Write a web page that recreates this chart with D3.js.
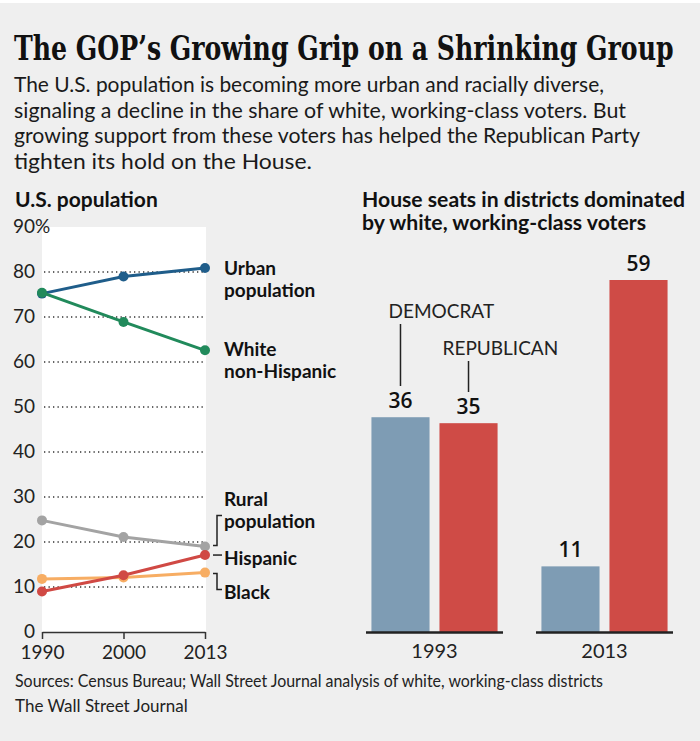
<!DOCTYPE html>
<html>
<head>
<meta charset="utf-8">
<script src="https://cdn.jsdelivr.net/npm/d3@7"></script>
<style>
  body { margin: 0; background: #ffffff; }
  .cond { font-family: Lato, "Liberation Sans Narrow", sans-serif; }
  .label { font-family: Lato, sans-serif; font-weight: bold; font-size: 19px; fill: #111; }
</style>
</head>
<body>
<div class="chart"></div>
<script>
// left panel data: share of U.S. population (%)
var years = ["1990", "2000", "2013"];
var urban = [75.2, 79.0, 80.9];
var whiteNonHispanic = [75.4, 68.9, 62.6];
var rural = [24.8, 21.1, 19.0];
var hispanic = [9.0, 12.6, 17.1];
var black = [11.8, 12.1, 13.2];
var popTicks = [0, 10, 20, 30, 40, 50, 60, 70, 80, 90];

// right panel data: house seats
var seatYears = ["1993", "2013"];
var parties = ["Democrat", "Republican"];
var democratSeats = [36, 11];
var republicanSeats = [35, 59];

var subtitle = [
    "The U.S. population is becoming more urban and racially diverse,",
    "signaling a decline in the share of white, working-class voters. But",
    "growing support from these voters has helped the Republican Party",
    "tighten its hold on the House."
];
var subtitleWidths = [590, 612, 626, 298];

function drawChart() {

    var width = 700, height = 741;

    var svg = d3.select(".chart").append("svg")
        .attr("width", width)
        .attr("height", height);

    // background
    svg.append("rect")
        .attr("x", 0).attr("y", 3)
        .attr("width", width).attr("height", height - 3)
        .attr("fill", "#efefef");

    // title (squeezed horizontally to look condensed)
    var title = svg.append("text")
        .attr("x", 0)
        .attr("y", 0)
        .style("font-family", "'DejaVu Serif Condensed', 'DejaVu Serif', serif")
        .style("font-weight", "bold")
        .style("font-size", "33px")
        .style("fill", "#111")
        .text("The GOP\u2019s Growing Grip on a Shrinking Group");
    var tw = title.node().getComputedTextLength();
    title.attr("transform", `translate(14, 60) scale(${660 / tw}, 1)`);

    svg.selectAll(".subtitle")
        .data(subtitle)
        .enter().append("text")
        .attr("class", "subtitle cond")
        .attr("x", 14)
        .attr("y", function(d, i) { return 92 + i * 25.5; })
        .attr("textLength", function(d, i) { return subtitleWidths[i]; })
        .attr("lengthAdjust", "spacingAndGlyphs")
        .style("font-size", "22px")
        .style("fill", "#1a1a1a")
        .text(function(d) { return d; });

    // ---------- left panel: U.S. population ----------
    svg.append("text")
        .attr("class", "cond")
        .attr("x", 15)
        .attr("y", 207)
        .style("font-size", "21px")
        .style("font-weight", "bold")
        .style("fill", "#111")
        .text("U.S. population");

    var x = d3.scalePoint().domain(years).range([42, 205]);
    var y = d3.scaleLinear().domain([0, 90]).range([632, 227]);

    svg.append("rect")
        .attr("x", 42)
        .attr("y", y(90))
        .attr("width", 164)
        .attr("height", y(0) - y(90))
        .attr("fill", "#ffffff");

    // dotted gridlines
    svg.selectAll(".grid")
        .data(popTicks.filter(function(d) { return d > 0 && d < 90; }))
        .enter().append("line")
        .attr("x1", 44).attr("x2", 203)
        .attr("y1", function(d) { return y(d); })
        .attr("y2", function(d) { return y(d); })
        .style("stroke", "#333")
        .style("stroke-width", "1.3px")
        .style("stroke-dasharray", "1.3,3.2");

    // y labels
    svg.selectAll(".ylab")
        .data(popTicks)
        .enter().append("text")
        .attr("class", "cond")
        .attr("x", 35)
        .attr("y", function(d) { return y(d) + 5.5; })
        .style("text-anchor", "end")
        .style("font-size", "19px")
        .style("fill", "#222")
        .text(function(d) { return d; });
    svg.append("text")
        .attr("class", "cond")
        .attr("x", 35)
        .attr("y", y(90) + 5.5)
        .style("font-size", "19px")
        .style("fill", "#222")
        .text("%");

    // x axis
    var xAxis = svg.append("g")
        .attr("transform", `translate(0, ${y(0)})`)
        .call(d3.axisBottom(x).tickSize(7).tickSizeOuter(0));
    xAxis.select(".domain").style("stroke", "#333").style("stroke-width", "1.5px");
    xAxis.selectAll(".tick line").style("stroke", "#333").style("stroke-width", "1.5px");
    xAxis.selectAll(".tick text")
        .attr("class", "cond")
        .attr("y", 27)
        .attr("dy", 0)
        .style("font-size", "19px")
        .style("fill", "#222");

    // lines
    var series = [
        {name: "rural", values: rural, color: "#a3a3a3"},
        {name: "black", values: black, color: "#f7ad63"},
        {name: "hispanic", values: hispanic, color: "#d04944"},
        {name: "urban", values: urban, color: "#1f5d8a"},
        {name: "white", values: whiteNonHispanic, color: "#218a5b"}
    ];

    var valueline = d3.line()
        .x(function(d, i) { return x(years[i]); })
        .y(function(d) { return y(d); });

    series.forEach(function(s) {
        svg.append("path")
            .datum(s.values)
            .attr("d", valueline)
            .style("fill", "none")
            .style("stroke", s.color)
            .style("stroke-width", "3px");
        svg.selectAll(".dot-" + s.name)
            .data(s.values)
            .enter().append("circle")
            .attr("cx", function(d, i) { return x(years[i]); })
            .attr("cy", function(d) { return y(d); })
            .attr("r", 5)
            .style("fill", s.color);
    });

    // line labels
    function label(lines, yy) {
        lines.forEach(function(t, i) {
            svg.append("text")
                .attr("class", "label")
                .attr("x", 224)
                .attr("y", yy + i * 22)
                .text(t);
        });
    }
    label(["Urban", "population"], y(urban[2]) + 7);
    label(["White", "non-Hispanic"], y(whiteNonHispanic[2]) + 6);
    label(["Rural", "population"], y(rural[2]) - 41);
    label(["Hispanic"], y(hispanic[2]) + 10);
    label(["Black"], y(black[2]) + 26);

    // brackets
    var bx = 217;
    svg.append("path")
        .attr("d", `M${bx + 5},${y(rural[2]) - 31} H${bx} V${y(rural[2]) - 1} H${bx - 4}`)
        .style("fill", "none").style("stroke", "#222").style("stroke-width", "1.5px");
    svg.append("path")
        .attr("d", `M${bx - 4},${y(hispanic[2])} H${bx + 5}`)
        .style("fill", "none").style("stroke", "#222").style("stroke-width", "1.5px");
    svg.append("path")
        .attr("d", `M${bx - 4},${y(black[2]) + 1} H${bx} V${y(black[2]) + 17} H${bx + 5}`)
        .style("fill", "none").style("stroke", "#222").style("stroke-width", "1.5px");

    // ---------- right panel: house seats ----------
    svg.append("text")
        .attr("class", "cond")
        .attr("x", 362)
        .attr("y", 207)
        .attr("textLength", 323)
        .attr("lengthAdjust", "spacingAndGlyphs")
        .style("font-size", "21px")
        .style("font-weight", "bold")
        .style("fill", "#111")
        .text("House seats in districts dominated");
    svg.append("text")
        .attr("class", "cond")
        .attr("x", 362)
        .attr("y", 230)
        .attr("textLength", 284)
        .attr("lengthAdjust", "spacingAndGlyphs")
        .style("font-size", "21px")
        .style("font-weight", "bold")
        .style("fill", "#111")
        .text("by white, working-class voters");

    var xb = d3.scaleBand().domain(seatYears).range([366, 673]).paddingInner(0.194);
    var xp = d3.scaleBand().domain(parties).range([0, xb.bandwidth()])
        .paddingInner(0.146).paddingOuter(0.08);
    var yb = d3.scaleLinear().domain([0, 59]).range([632, 280]);
    var partyColor = {Democrat: "#7e9cb4", Republican: "#cf4b46"};

    var seatData = [];
    seatYears.forEach(function(yr, i) {
        seatData.push({year: yr, party: "Democrat", value: democratSeats[i]});
        seatData.push({year: yr, party: "Republican", value: republicanSeats[i]});
    });

    svg.selectAll(".bar")
        .data(seatData)
        .enter().append("rect")
        .attr("x", function(d) { return xb(d.year) + xp(d.party); })
        .attr("y", function(d) { return yb(d.value); })
        .attr("width", xp.bandwidth())
        .attr("height", function(d) { return yb(0) - yb(d.value); })
        .style("fill", function(d) { return partyColor[d.party]; });

    svg.selectAll(".barlab")
        .data(seatData)
        .enter().append("text")
        .attr("x", function(d) { return xb(d.year) + xp(d.party) + xp.bandwidth() / 2; })
        .attr("y", function(d) { return yb(d.value) - 9; })
        .style("text-anchor", "middle")
        .style("font-family", "'Open Sans', sans-serif")
        .style("font-size", "21px")
        .style("font-weight", "600")
        .style("fill", "#111")
        .text(function(d) { return d.value; });

    // baselines per group + year labels
    svg.selectAll(".base")
        .data(seatYears)
        .enter().append("line")
        .attr("x1", function(d) { return xb(d); })
        .attr("x2", function(d) { return xb(d) + xb.bandwidth(); })
        .attr("y1", yb(0) + 0.5)
        .attr("y2", yb(0) + 0.5)
        .style("stroke", "#222")
        .style("stroke-width", "2.5px");
    svg.selectAll(".yearlab")
        .data(seatYears)
        .enter().append("text")
        .attr("class", "cond")
        .attr("x", function(d) { return xb(d) + xb.bandwidth() / 2; })
        .attr("y", 658)
        .style("text-anchor", "middle")
        .style("font-size", "20px")
        .style("fill", "#222")
        .text(function(d) { return d; });

    // party annotations
    var demX = xb(seatYears[0]) + xp("Democrat") + xp.bandwidth() / 2;
    var repX = xb(seatYears[0]) + xp("Republican") + xp.bandwidth() / 2;
    svg.append("text")
        .attr("class", "cond")
        .attr("x", demX - 12)
        .attr("y", 318)
        .style("font-size", "19px")
        .style("fill", "#222")
        .text("DEMOCRAT");
    svg.append("line")
        .attr("x1", demX).attr("x2", demX)
        .attr("y1", 324).attr("y2", 386)
        .style("stroke", "#222").style("stroke-width", "1.5px");
    svg.append("text")
        .attr("class", "cond")
        .attr("x", repX - 26)
        .attr("y", 355)
        .style("font-size", "19px")
        .style("fill", "#222")
        .text("REPUBLICAN");
    svg.append("line")
        .attr("x1", repX).attr("x2", repX)
        .attr("y1", 361).attr("y2", 392)
        .style("stroke", "#222").style("stroke-width", "1.5px");

    // footer
    svg.append("text")
        .attr("class", "cond")
        .attr("x", 15)
        .attr("y", 687)
        .attr("textLength", 588)
        .attr("lengthAdjust", "spacingAndGlyphs")
        .style("font-size", "17px")
        .style("fill", "#222")
        .text("Sources: Census Bureau; Wall Street Journal analysis of white, working-class districts");
    svg.append("text")
        .attr("class", "cond")
        .attr("x", 15)
        .attr("y", 712)
        .style("font-size", "17px")
        .style("fill", "#222")
        .text("The Wall Street Journal");
}

drawChart();
</script>
</body>
</html>
